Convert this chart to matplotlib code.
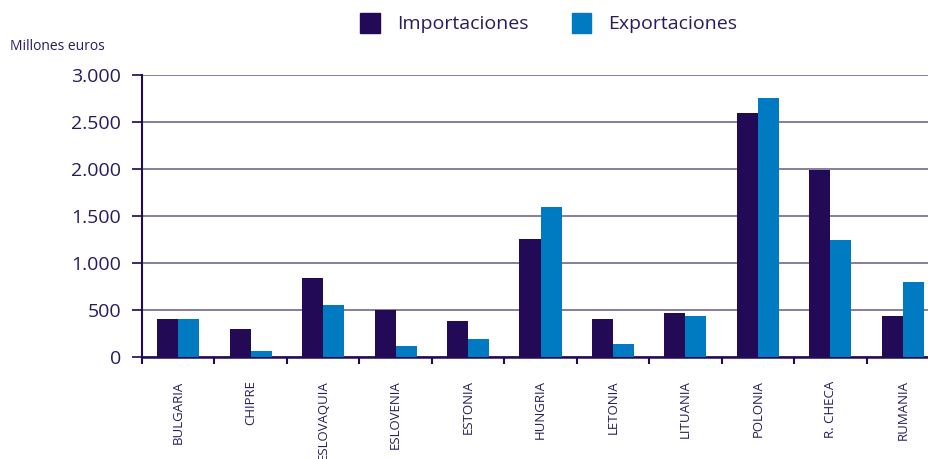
import numpy as np
import matplotlib
matplotlib.use('Agg')
import matplotlib.pyplot as plt
from matplotlib.patches import Patch

# data (millones de euros)
countries = ['BULGARIA', 'CHIPRE', 'ESLOVAQUIA', 'ESLOVENIA', 'ESTONIA', 'HUNGRIA',
             'LETONIA', 'LITUANIA', 'POLONIA', 'R. CHECA', 'RUMANIA']
importaciones = [400, 290, 835, 495, 385, 1250, 400, 470, 2600, 1990, 430]
exportaciones = [400, 65, 550, 110, 185, 1590, 130, 430, 2750, 1240, 800]
yticks = [0, 500, 1000, 1500, 2000, 2500, 3000]
ytick_labels = ['0', '500', '1.000', '1.500', '2.000', '2.500', '3.000']

c_imp = '#230a57'
c_exp = '#007bc1'
c_grid = '#7d7299'
c_text = '#2a1a5c'

plt.rcParams['font.family'] = ['Open Sans', 'DejaVu Sans']

W, H = 929, 459
fig = plt.figure(figsize=(W / 100, H / 100), dpi=100)
# axes runs past the right edge of the figure, like in the reference
left, right, top, bottom = 142, 939, 75, 356.7
ax = fig.add_axes([left / W, 1 - bottom / H, (right - left) / W, (bottom - top) / H])

x = np.arange(len(countries))
w = 0.29
ax.bar(x - w / 2, importaciones, width=w, color=c_imp, zorder=3)
ax.bar(x + w / 2, exportaciones, width=w, color=c_exp, zorder=3)

ax.set_xlim(-0.5, len(countries) - 0.5)
ax.set_ylim(0, 3000)

ax.set_yticks(yticks)
ax.set_yticklabels(ytick_labels, fontsize=14, color=c_text)
ax.yaxis.grid(True, color=c_grid, linewidth=1.3, zorder=0)
ax.tick_params(axis='y', length=7, width=1.3, color=c_text, pad=8)

# ticks sit between categories, labels sit in the middle
ax.set_xticks(np.arange(len(countries) + 1) - 0.5)
ax.set_xticklabels([])
ax.set_xticks(x, minor=True)
ax.set_xticklabels(countries, minor=True, rotation=90, fontsize=9.5,
                   color=c_text, va='top', ha='center')
ax.tick_params(axis='x', which='major', length=5, width=1.5, color=c_imp, direction='out')
ax.tick_params(axis='x', which='minor', length=0, pad=17)

for s in ['top', 'right']:
    ax.spines[s].set_visible(False)
ax.spines['left'].set_color(c_imp)
ax.spines['left'].set_linewidth(1.5)
ax.spines['bottom'].set_color(c_imp)
ax.spines['bottom'].set_linewidth(1.8)

fig.text(10 / W, 1 - 46 / H, 'Millones euros', fontsize=10, color=c_text, va='center')

handles = [Patch(color=c_imp, label='Importaciones'), Patch(color=c_exp, label='Exportaciones')]
leg = fig.legend(handles=handles, loc='center', bbox_to_anchor=(549 / W, 1 - 23 / H),
                 ncol=2, frameon=False, fontsize=14, handlelength=1.0, handleheight=1.2,
                 columnspacing=2.2, handletextpad=0.9)
for t in leg.get_texts():
    t.set_color(c_text)

fig.savefig('out.png', dpi=100)
